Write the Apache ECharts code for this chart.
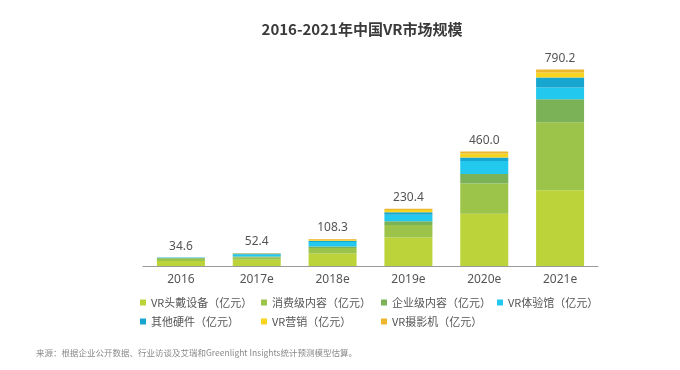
<!DOCTYPE html>
<html><head><meta charset="utf-8">
<script src="https://cdn.jsdelivr.net/npm/echarts@6/dist/echarts.min.js"></script>
<style>html,body{margin:0;padding:0;background:#fff}#c{width:680px;height:370px}</style>
</head><body><div id="c"></div>
<script>
const categories = ['2016', '2017e', '2018e', '2019e', '2020e', '2021e'];
const totals = ['34.6', '52.4', '108.3', '230.4', '460.0', '790.2'];
const seriesNames = ['VR头戴设备（亿元）', '消费级内容（亿元）', '企业级内容（亿元）', 'VR体验馆（亿元）', '其他硬件（亿元）', 'VR营销（亿元）', 'VR摄影机（亿元）'];
const headset = [20, 25, 50, 115, 210, 305];
const consumerContent = [9, 10, 22, 50, 122, 273];
const enterpriseContent = [3.5, 3, 6, 15, 38, 92];
const experienceHall = [0.5, 8, 18, 26, 52, 48];
const otherHardware = [1.2, 4, 6, 10, 14, 40];
const marketing = [0.3, 1.5, 4, 9, 16, 20];
const camera = [0.1, 0.9, 2.3, 5.4, 8, 12.2];
const seriesValues = [headset, consumerContent, enterpriseContent, experienceHall, otherHardware, marketing, camera];
const colors = ['#bcd43a', '#9cc34a', '#7cb257', '#22c8ee', '#16a6cf', '#f6d420', '#eeb52e'];

const legendPos = [[140, 297], [261, 297], [381, 297], [497, 297], [140, 316], [261, 316], [381, 316]];

const chart = echarts.init(document.getElementById('c'));
chart.setOption({
  animation: false,
  title: {
    text: '2016-2021年中国VR市场规模', left: 357, top: 17, textAlign: 'center',
    textStyle: { fontSize: 15, fontWeight: 'bold', color: '#3a3a3a', fontFamily: 'Noto Sans CJK SC' }
  },
  graphic: [{
    type: 'text', left: 36, top: 349,
    style: { text: '来源：根据企业公开数据、行业访谈及艾瑞和Greenlight Insights统计预测模型估算。', fill: '#8a8a8a', font: '8.5px "Noto Sans CJK SC"' }
  }],
  legend: seriesNames.map((n, i) => ({
    data: [n], left: legendPos[i][0], top: legendPos[i][1], itemWidth: 6, itemHeight: 6, itemGap: 4,
    icon: 'rect', textStyle: { fontSize: 11, color: '#555', fontFamily: 'Noto Sans CJK SC' }, padding: 0
  })),
  grid: { left: 143, right: 82, top: 67, bottom: 104 },
  xAxis: {
    type: 'category', data: categories,
    axisLine: { lineStyle: { color: '#9a9a9a' } }, axisTick: { show: false },
    axisLabel: { color: '#555', fontSize: 12, margin: 8, fontFamily: 'Noto Sans' }
  },
  yAxis: { type: 'value', min: 0, max: 800, show: false, splitLine: { show: false } },
  series: seriesNames.map((n, i) => ({
    name: n, type: 'bar', stack: 'total', data: seriesValues[i], barWidth: 48,
    itemStyle: { color: colors[i] },
    label: i === seriesNames.length - 1 ? {
      show: true, position: 'top', distance: 5, color: '#555', fontSize: 12, fontFamily: 'Noto Sans',
      formatter: p => totals[p.dataIndex]
    } : { show: false }
  }))
});
</script></body></html>
